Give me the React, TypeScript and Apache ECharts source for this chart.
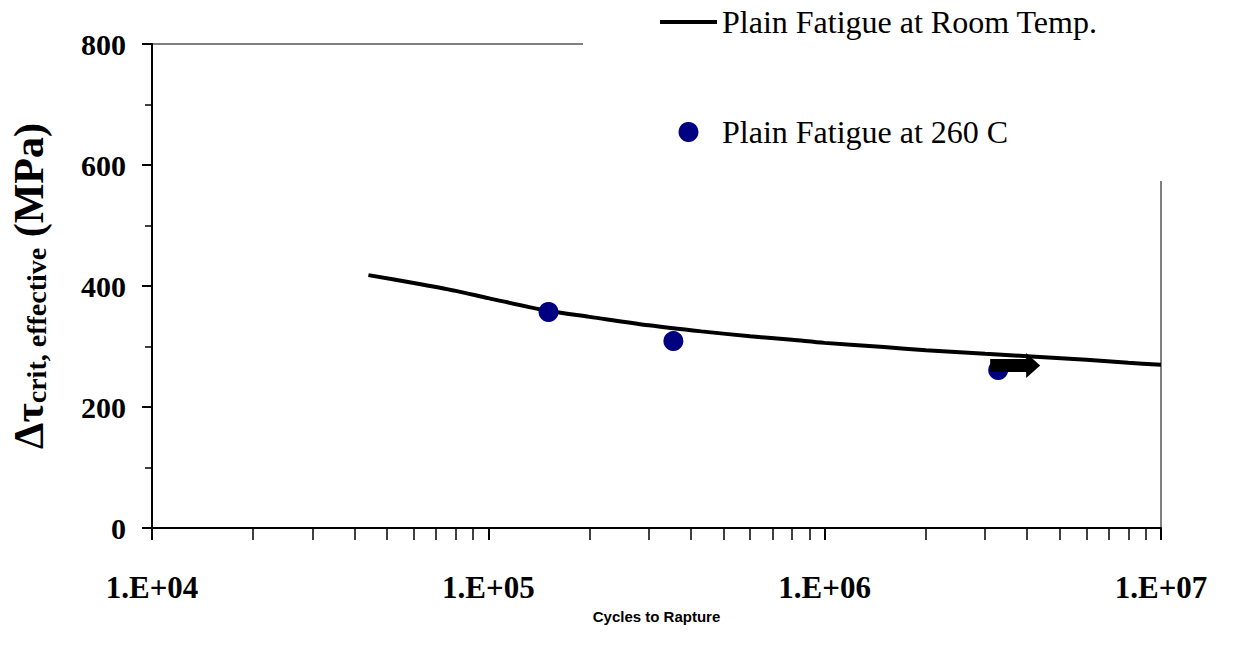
import React, { useEffect, useRef } from 'react';
import * as echarts from 'echarts';

// Plain fatigue curve at room temperature
const curveCycles = [4.4e4, 6e4, 8e4, 1e5, 1.5e5, 2e5, 3e5, 4.3e5, 6e5, 8e5, 1e6, 1.5e6, 2e6, 3e6, 4e6, 6e6, 8e6, 1e7];
const curveStress = [418, 405, 392, 380, 359, 349, 335, 325, 317, 311, 306, 299, 294, 288, 284, 278, 273, 270];

// Plain fatigue at 260 C test points
const pointCycles = [1.51e5, 3.55e5, 3.28e6];
const pointStress = [357, 309, 261];
const runoutIndex = 2;

const seriesNames = ['Plain Fatigue at Room Temp.', 'Plain Fatigue at 260 C'];

const xMajorTicks = [1e4, 1e5, 1e6, 1e7];
const xTickLabels = ['1.E+04', '1.E+05', '1.E+06', '1.E+07'];
const xMinorMultipliers = [2, 3, 4, 5, 6, 7, 8, 9];
const yTicks = [0, 200, 400, 600, 800];

const xTitle = 'Cycles to Rapture';

export default function App() {
  const ref = useRef<HTMLDivElement>(null);
  useEffect(() => {
    if (!ref.current) return;
    const chart = echarts.init(ref.current, null, { renderer: 'svg' });
    const minorTickLogs: number[] = [];
    xMajorTicks.slice(0, -1).forEach((t) => {
      xMinorMultipliers.forEach((m) => minorTickLogs.push(Math.log10(t * m)));
    });
    const serif = 'Liberation Serif';
    chart.setOption({
      animation: false,
      backgroundColor: '#fff',
      grid: {
        left: 151,
        right: 79,
        top: 44,
        bottom: 133,
        show: true,
        borderColor: '#808080',
        borderWidth: 2,
        backgroundColor: 'transparent',
      },
      legend: {
        data: [
          { name: seriesNames[0], icon: 'path://M0,0H57V4H0Z', itemStyle: { color: '#000' } },
          { name: seriesNames[1], icon: 'circle', itemStyle: { color: '#000080', opacity: 1 } },
        ],
        orient: 'vertical',
        left: 583,
        top: 0,
        padding: [6, 90, 33, 77],
        itemGap: 78,
        itemWidth: 57,
        itemHeight: 20,
        backgroundColor: '#fff',
        textStyle: { fontFamily: serif, fontSize: 32, color: '#000' },
        selectedMode: false,
      },
      xAxis: [
        {
          type: 'log',
          logBase: 10,
          min: xMajorTicks[0],
          max: xMajorTicks[xMajorTicks.length - 1],
          name: xTitle,
          nameLocation: 'middle',
          nameGap: 81,
          nameTextStyle: { fontFamily: 'Liberation Sans', fontWeight: 'bold', fontSize: 15, color: '#000' },
          axisLine: { show: true, onZero: false, lineStyle: { color: '#000', width: 2 } },
          axisTick: { show: true, length: 12, lineStyle: { color: '#000', width: 2 } },
          minorTick: { show: false },
          splitLine: { show: false },
          axisLabel: {
            margin: 44,
            fontFamily: serif,
            fontWeight: 'bold',
            fontSize: 31,
            color: '#000',
            formatter: (v: number) => {
              const i = xMajorTicks.findIndex((t) => Math.abs(Math.log10(t) - Math.log10(v)) < 1e-6);
              return i >= 0 ? xTickLabels[i] : '';
            },
          },
        },
        {
          type: 'value',
          min: Math.log10(xMajorTicks[0]),
          max: Math.log10(xMajorTicks[xMajorTicks.length - 1]),
          position: 'bottom',
          axisLine: { show: false, onZero: false },
          axisLabel: { show: false },
          splitLine: { show: false },
          axisTick: { show: true, length: 12, customValues: minorTickLogs, lineStyle: { color: '#000', width: 1.5 } },
        },
      ],
      yAxis: {
        type: 'value',
        min: yTicks[0],
        max: yTicks[yTicks.length - 1],
        interval: yTicks[1] - yTicks[0],
        name: '{a|Δτ}{b|crit, effective}{c| (MPa)}',
        nameLocation: 'middle',
        nameGap: 102,
        nameTextStyle: {
          rich: {
            a: { fontFamily: serif, fontWeight: 'bold', fontSize: 42, color: '#000', verticalAlign: 'bottom', lineHeight: 44 },
            b: { fontFamily: serif, fontWeight: 'bold', fontSize: 28, color: '#000', verticalAlign: 'bottom', lineHeight: 44 },
            c: { fontFamily: serif, fontWeight: 'bold', fontSize: 42, color: '#000', verticalAlign: 'bottom', lineHeight: 44 },
          },
        },
        axisLine: { show: true, lineStyle: { color: '#000', width: 2 } },
        axisTick: { show: true, length: 10, lineStyle: { color: '#000', width: 2 } },
        minorTick: { show: true, splitNumber: 2, length: 7, lineStyle: { color: '#000', width: 1.5 } },
        splitLine: { show: false },
        axisLabel: { margin: 26, fontFamily: serif, fontWeight: 'bold', fontSize: 30, color: '#000' },
      },
      series: [
        {
          name: seriesNames[0],
          type: 'line',
          data: curveCycles.map((c, i) => [c, curveStress[i]]),
          symbol: 'none',
          smooth: 0.3,
          lineStyle: { color: '#000', width: 4 },
          itemStyle: { color: '#000' },
          z: 2,
        },
        {
          name: seriesNames[1],
          type: 'scatter',
          data: pointCycles.map((c, i) => [c, pointStress[i]]),
          symbol: 'circle',
          symbolSize: 20,
          itemStyle: { color: '#000080', opacity: 1 },
          z: 3,
          markPoint: {
            silent: true,
            symbol: 'path://M0,6H36V0L50,12.5L36,25V19H0Z',
            symbolSize: [50, 25],
            symbolOffset: [17, -4.5],
            itemStyle: { color: '#000', opacity: 1 },
            label: { show: false },
            data: [{ coord: [pointCycles[runoutIndex], pointStress[runoutIndex]] }],
          },
        },
      ],
    });
    return () => chart.dispose();
  }, []);
  return <div ref={ref} style={{ position: 'absolute', left: 0, top: 0, width: 1240, height: 661 }} />;
}
